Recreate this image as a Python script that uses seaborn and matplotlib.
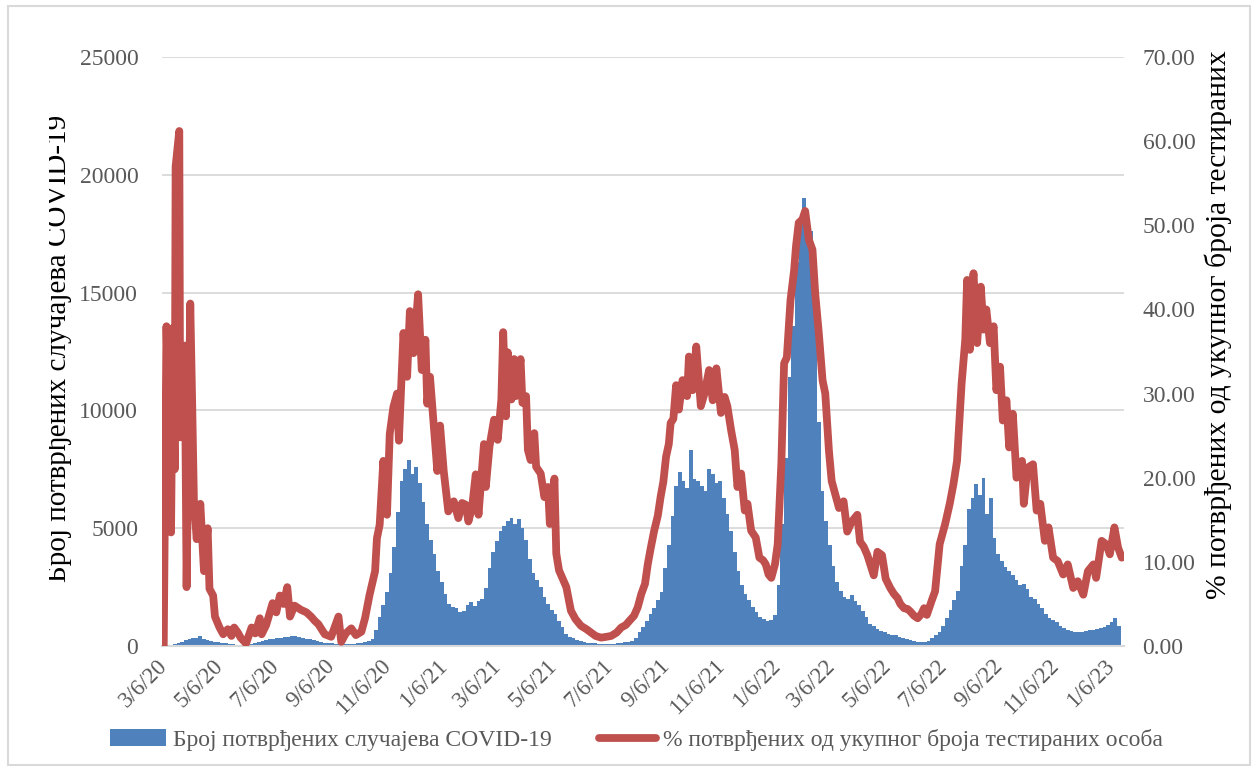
import pandas as pd
import seaborn as sns
import matplotlib.pyplot as plt
import matplotlib.dates as mdates
from matplotlib.patches import Patch, Rectangle
from matplotlib.lines import Line2D
from matplotlib.transforms import Bbox, TransformedBbox

start = pd.Timestamp('2020-03-06')

# confirmed cases, every 4 days from 3/6/20
cases = [
    2, 15, 40, 80, 110, 180, 250, 290, 330, 360,
    420, 310, 270, 220, 180, 150, 120, 110, 95, 80,
    60, 55, 50, 50, 80, 110, 150, 200, 260, 290,
    300, 330, 350, 370, 390, 410, 420, 380, 340, 310,
    290, 250, 210, 170, 130, 120, 110, 100, 95, 90,
    90, 95, 100, 110, 130, 150, 200, 300, 700, 1250,
    1750, 2300, 3100, 4200, 5700, 7000, 7500, 7900, 7300, 7600,
    6900, 6100, 5200, 4500, 3900, 3200, 2700, 2200, 1800, 1650,
    1600, 1450, 1500, 1750, 1850, 1700, 1900, 2000, 2450, 3300,
    4000, 4450, 4900, 5100, 5300, 5450, 5200, 5400, 5000, 4500,
    3700, 3100, 2800, 2500, 2100, 1800, 1550, 1350, 1050, 800,
    500, 400, 320, 260, 200, 160, 140, 120, 110, 105,
    100, 100, 95, 100, 110, 130, 150, 180, 220, 330,
    600, 800, 1050, 1350, 1600, 1950, 2300, 3300, 4300, 5500,
    6800, 7400, 7000, 6700, 8300, 7100, 7000, 6800, 6600, 7500,
    7300, 6900, 7000, 6300, 5600, 4900, 4000, 3200, 2600, 2200,
    1950, 1650, 1450, 1250, 1150, 1050, 1100, 1300, 2600, 5200,
    8000, 11400, 13600, 16300, 17800, 19000, 17500, 17600, 14800, 9500,
    6600, 5300, 4300, 3400, 2700, 2350, 2100, 2000, 2150, 1900,
    1730, 1500, 1250, 950, 850, 740, 650, 580, 520, 470,
    450, 400, 340, 300, 260, 220, 190, 175, 170, 220,
    330, 450, 610, 850, 1180, 1550, 1950, 2350, 3400, 4300,
    5800, 6300, 6860, 6430, 7140, 5600, 6290, 4590, 3900, 3600,
    3350, 3200, 3020, 2800, 2600, 2650, 2400, 2100, 2000, 1800,
    1600, 1350, 1180, 1100, 1040, 850, 750, 700, 650, 610,
    600, 610, 640, 680, 700, 720, 750, 800, 900, 1040,
    1180, 850,
]
case_dates = pd.date_range(start, periods=len(cases), freq='4D')

# % positive among tested, turning points of the line (days since 3/6/20)
pct_day = [
    0, 3, 8, 10, 12, 13, 17, 18, 23, 25, 29, 31, 33, 36, 40, 44, 48, 50, 54, 56,
    61, 65, 70, 74, 77, 81, 84, 90, 96, 100, 105, 107, 112, 119, 123, 127, 131, 135, 138, 143,
    150, 156, 161, 165, 169, 176, 183, 191, 194, 199, 205, 210, 216, 220, 225, 231, 233, 236, 240, 244,
    247, 251, 255, 257, 260, 262, 266, 269, 273, 278, 282, 286, 288, 291, 295, 299, 302, 306, 311, 317,
    322, 326, 330, 333, 337, 341, 344, 350, 352, 356, 361, 365, 369, 371, 374, 376, 380, 383, 385, 390,
    392, 396, 398, 401, 405, 407, 412, 416, 420, 422, 427, 429, 432, 436, 440, 445, 450, 456, 462, 467,
    472, 478, 484, 489, 495, 500, 505, 509, 514, 518, 522, 526, 529, 532, 536, 540, 543, 546, 549, 552,
    554, 557, 560, 563, 567, 572, 574, 578, 582, 587, 591, 596, 600, 604, 609, 613, 616, 620, 624, 627,
    631, 635, 638, 642, 647, 651, 655, 658, 661, 664, 668, 671, 675, 678, 681, 685, 689, 691, 694, 698,
    701, 705, 709, 712, 716, 720, 723, 727, 730, 734, 738, 743, 747, 752, 758, 761, 765, 769, 776, 780,
    785, 789, 794, 798, 802, 805, 809, 813, 816, 820, 824, 828, 831, 834, 839, 843, 848, 854, 859, 863,
    867, 870, 872, 876, 878, 881, 883, 885, 889, 893, 896, 899, 903, 907, 910, 914, 917, 921, 924, 928,
    932, 938, 940, 944, 950, 954, 958, 963, 967, 972, 977, 983, 988, 994, 999, 1005, 1010, 1016, 1019, 1025,
    1030, 1034, 1039, 1043, 1047,
]
pct = [
    0, 38, 13.5, 37.8, 21, 57, 61.2, 24.8, 35.7, 7, 40.7, 29.4, 17.3, 12.7, 16.9, 8.9, 14, 6.8, 6, 3.5,
    2.2, 1.4, 2.0, 1.2, 2.2, 1.6, 1.0, 0.3, 2.2, 1.5, 3.3, 1.4, 2.5, 5.1, 4.0, 6.0, 5.0, 7.0, 3.5, 4.8,
    4.3, 4.0, 3.5, 3.0, 2.6, 1.4, 1.1, 3.5, 0.5, 1.5, 2.1, 1.3, 1.7, 3.3, 6.1, 8.9, 12.8, 14.4, 22, 15.6,
    25.2, 28.4, 30, 24.4, 32, 37.2, 32, 39.8, 34.8, 41.8, 32.8, 36.4, 28.8, 32, 26.4, 20.8, 26.2, 20.8, 16, 17.2,
    15.2, 17.0, 16.8, 14.8, 16.5, 20.4, 15.6, 24, 18.9, 23.7, 26.9, 24.5, 29.3, 37.3, 27.3, 34.9, 29.3, 34.1, 29.7, 34.1,
    28.9, 29.7, 23.3, 22.1, 25.3, 21.3, 20.5, 17.7, 18.9, 14.5, 19.9, 11, 9, 8, 7, 4.2, 3.2, 2.4, 2.0, 1.6,
    1.2, 1.0, 1.1, 1.2, 1.6, 2.2, 2.5, 3.0, 3.6, 4.6, 6.2, 7.4, 9.7, 11.5, 13.7, 15.5, 17.7, 19.5, 22.5, 24.0,
    26.5, 27.0, 31, 28.1, 31.6, 29.7, 34.4, 30.4, 35.6, 28.5, 30, 32.8, 29.2, 33, 27.7, 29.6, 28.5, 25.7, 23.3, 18.9,
    20.5, 16.1, 16.9, 13.7, 12.9, 10.5, 10.2, 9.7, 8.5, 8.1, 9.7, 12.1, 21.7, 33.6, 34.3, 41.1, 44.7, 47.5, 50.3, 50.7,
    51.7, 48.3, 47.1, 41.9, 37.1, 31.6, 30, 23.2, 19.6, 18, 16.4, 17.2, 13.6, 14.8, 15.6, 12.4, 11.8, 10.8, 8.4, 11.2,
    10.8, 8, 6.9, 6.2, 5.7, 5.0, 4.5, 4.4, 4.1, 3.6, 3.3, 3.8, 4.5, 3.7, 5.3, 6.5, 12.1, 14.5, 16.9, 19.2,
    22, 27.6, 31.2, 36.4, 43.5, 35.2, 41.2, 44.3, 36, 42.7, 37.6, 40, 36, 38, 30.4, 33.2, 26.8, 29.2, 23.6, 27.6,
    20, 22, 16.9, 21.2, 21.6, 16.1, 16.9, 12.5, 14.1, 10.5, 10.1, 8.5, 9.7, 6.9, 7.7, 6.1, 8.9, 9.7, 8.1, 12.5,
    12.1, 10.9, 14.1, 11.7, 10.5,
]
pct_dates = start + pd.to_timedelta(pct_day, unit='D')

tick_labels = ['3/6/20', '5/6/20', '7/6/20', '9/6/20', '11/6/20', '1/6/21', '3/6/21',
               '5/6/21', '7/6/21', '9/6/21', '11/6/21', '1/6/22', '3/6/22', '5/6/22',
               '7/6/22', '9/6/22', '11/6/22', '1/6/23']
tick_dates = pd.to_datetime(tick_labels, format='%m/%d/%y')
left_ticks = [0, 5000, 10000, 15000, 20000, 25000]
right_ticks = [0, 10, 20, 30, 40, 50, 60, 70]

bar_label = 'Број потврђених случајева COVID-19'
line_label = '% потврђених од укупног броја тестираних особа'
left_title = 'Број потврђених случајева COVID-19'
right_title = '% потврђених од укупног броја тестираних'

blue = '#4F81BD'
red = '#C0504D'
grey = '#595959'
light = '#D9D9D9'

sns.set_theme(style='white')
plt.rcParams['font.family'] = ['Liberation Serif', 'DejaVu Serif']

fig = plt.figure(figsize=(12.55, 7.7), dpi=100)
ax = fig.add_axes([0.129, 0.161, 0.767, 0.765])

bars = pd.DataFrame({'x': mdates.date2num(case_dates), 'cases': cases})
sns.barplot(data=bars, x='x', y='cases', native_scale=True, orient='x', width=1.0,
            color=blue, saturation=1, linewidth=0, errorbar=None, ax=ax)

ax2 = ax.twinx()
line = pd.DataFrame({'x': mdates.date2num(pct_dates), 'pct': pct})
sns.lineplot(data=line, x='x', y='pct', color=red, linewidth=5.6, sort=False, ax=ax2)
for ln in ax2.lines:
    ln.set_solid_joinstyle('round')
    ln.set_solid_capstyle('round')

x0 = mdates.date2num(start)
ax.set_xlim(x0 - 2, x0 + 1050)
ax.set_ylim(0, 25000)
ax2.set_ylim(0, 70)

ax.set_xticks(mdates.date2num(tick_dates))
ax.set_xticklabels(tick_labels, rotation=45, ha='right', va='center',
                   rotation_mode='anchor', fontsize=16.5, color=grey)
ax.set_yticks(left_ticks)
ax.set_yticklabels([str(v) for v in left_ticks], fontsize=17, color=grey)
ax2.set_yticks(right_ticks)
ax2.set_yticklabels([f'{v:.2f}' for v in right_ticks], fontsize=17, color=grey)
ax.tick_params(axis='x', length=0, pad=12)
ax.tick_params(axis='y', length=0, pad=17)
ax2.tick_params(axis='y', length=0, pad=13)
ax.set_xlabel('')
ax.set_ylabel('')
ax2.set_xlabel('')
ax2.set_ylabel('')

ax.yaxis.grid(True, color=light, linewidth=1.3)
ax.xaxis.grid(False)
ax.set_axisbelow(True)
for s in ['top', 'left', 'right']:
    ax.spines[s].set_visible(False)
    ax2.spines[s].set_visible(False)
ax2.spines['bottom'].set_visible(False)
ax.spines['bottom'].set_color(light)
ax.spines['bottom'].set_linewidth(1.5)

handles = [Patch(facecolor=blue, edgecolor='none', label=bar_label),
           Line2D([0], [0], color=red, linewidth=5.6, solid_capstyle='round', label=line_label)]
fig.legend(handles=handles, loc='center', bbox_to_anchor=(0.507, 0.039), ncol=2,
           frameon=False, fontsize=17, handlelength=2.4, columnspacing=2.0,
           handletextpad=0.3, labelcolor=grey)

# the left title is partly cut off in the original, keep only its right part
lt = fig.text(0.0466, 0.548, left_title, rotation=90, ha='center', va='center',
              fontsize=21, color='black')
lt.set_clip_box(TransformedBbox(Bbox([[48.5 / 1255, 0], [1, 1]]), fig.transFigure))
lt.set_clip_on(True)

fig.text(0.9705, 0.579, right_title, rotation=90, ha='center', va='center',
         fontsize=21.3, color='black')

fig.patches.append(Rectangle((0.006, 0.006), 0.99, 0.986, transform=fig.transFigure,
                             fill=False, edgecolor=light, linewidth=1.5))

fig.savefig('out.png', dpi=100)
